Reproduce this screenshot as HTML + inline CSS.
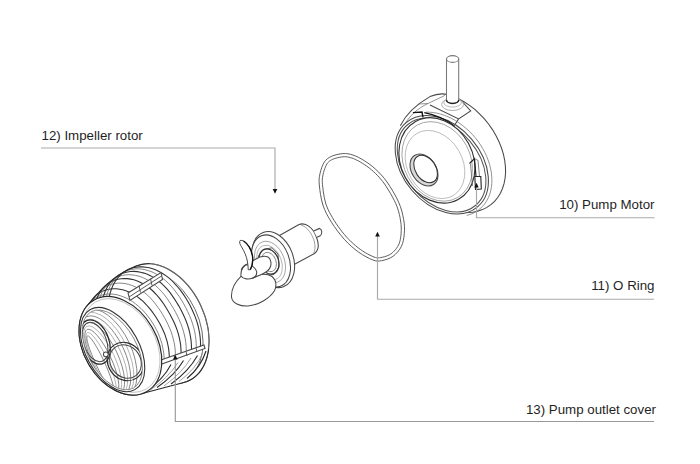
<!DOCTYPE html>
<html><head><meta charset="utf-8">
<style>
html,body{margin:0;padding:0;background:#fff;width:700px;height:464px;overflow:hidden}
svg{display:block}
text{font-family:"Liberation Sans",sans-serif;font-size:13.3px;fill:#1f1f1f}
.ld{stroke:#aaa;stroke-width:1.15;fill:none}
.k{stroke:#484848;stroke-width:1.05;fill:none}
.g{stroke:#777;stroke-width:0.8;fill:none}
.w{fill:#fff}
</style></head><body>
<svg width="700" height="464" viewBox="0 0 700 464">
<!-- labels -->
<text x="41.5" y="140">12) Impeller rotor</text>
<text x="654.5" y="208.5" text-anchor="end">10) Pump Motor</text>
<text x="654.5" y="290" text-anchor="end">11) O Ring</text>
<text x="656" y="413.5" text-anchor="end">13) Pump outlet cover</text>

<!-- MOTOR -->
<g id="motor">
<path class="w" d="M400.3 125.7 C 406 114, 417 104, 430 96.6 C 436 94, 441 93, 447.5 94.5 L447.5,94.5 453.2,96.4 458.9,98.9 464.4,102.0 469.9,105.6 475.1,109.7 480.0,114.3 484.6,119.2 488.9,124.5 492.8,130.1 496.2,135.9 499.1,141.9 501.5,148.0 503.4,154.2 504.7,160.3 505.4,166.4 505.6,172.3 505.1,178.0 504.1,183.4 502.5,188.5 500.4,193.2 497.7,197.5 494.6,201.3 490.9,204.6 486.9,207.4 482.4,209.6 477.6,211.2 472.6,212.2 467.2,212.5 461.7,212.3 L 445 211 L 400 170 Z"/>
<path class="k" d="M400.3 125.7 C 406 114, 417 104, 430 96.6 C 436 94, 441 93, 447.5 94.5 L447.5,94.5 453.2,96.4 458.9,98.9 464.4,102.0 469.9,105.6 475.1,109.7 480.0,114.3 484.6,119.2 488.9,124.5 492.8,130.1 496.2,135.9 499.1,141.9 501.5,148.0 503.4,154.2 504.7,160.3 505.4,166.4 505.6,172.3 505.1,178.0 504.1,183.4 502.5,188.5 500.4,193.2 497.7,197.5 494.6,201.3 490.9,204.6 486.9,207.4 482.4,209.6 477.6,211.2 472.6,212.2 467.2,212.5 461.7,212.3"/>
<path class="k" d="M460.7 100 L470.7 110.9 L458.6 118.9 L430 105 M458.6 118.9 L455 124.5"/>
<path class="g" d="M403.5 126.5 C 409 116, 418 108, 428 103.5 L418.6 104 M428 103.5 L444.9 95.4" style="stroke:#777"/>
<path class="g" d="M425.8 112.1 L429.4 112.2 L433.1 112.5 L436.8 113.1 L440.6 114.1 L444.3 115.3 L448.1 116.8 L451.8 118.6 L455.5 120.6 L459.1 123.0 L462.6 125.5 L466.0 128.3 L469.2 131.2 L472.3 134.4 L475.2 137.7 L478.0 141.2 L480.5 144.9 L482.8 148.6 L484.8 152.4 L486.7 156.3 L488.2 160.3 L489.5 164.2 L490.5 168.2 L491.3 172.2 L491.7 176.1 L491.9 179.9 L491.8 183.6 L491.4 187.3 L490.7 190.8 L489.8 194.1 L488.5 197.3 L487.0 200.3 L485.3 203.0 L483.2 205.6 L481.0 207.9 L478.5 209.9 L475.8 211.7 L473.0 213.3 L469.9 214.5 L466.7 215.4"/>
<ellipse transform="translate(441.8 164.8) rotate(-40.3)" rx="39.3" ry="55.2" class="k w"/>
<ellipse transform="translate(441.6 165.0) rotate(-40.3)" rx="37.0" ry="52.8" class="k" style="stroke:#555"/>
<path class="k" d="M412.9 112.6 L422 112 L423 117.3 M424.3 112.6 C 436 115, 447 120, 454 125.7 L455 129.8" style="stroke:#111;stroke-width:1.4"/>
<ellipse transform="translate(436.9 160.4) rotate(-28.6)" rx="35.9" ry="44.4" class="k w" style="stroke:#333;stroke-width:1.15"/>
<ellipse transform="translate(437.2 161.4) rotate(-28.6)" rx="33.2" ry="41.5" class="g" style="stroke:#9a9a9a"/>
<ellipse transform="translate(435.0 164.5) rotate(-30.0)" rx="27.5" ry="36.0" class="g" style="stroke:#b5b5b5"/>
<path class="k" d="M469.5 163.5 L474.5 158.5 L476 176.5" style="stroke:#222;stroke-width:1.2"/>
<path class="g" d="M474.5 158.5 L478 160.5 L479.5 176.5 M470.5 164 L472.5 186" style="stroke:#666"/>
<path class="k w" d="M474.8 176.5 L480.8 176.5 L481.3 189 L475.5 189.5 Z" style="stroke:#222;stroke-width:1.1"/>
<ellipse transform="translate(424.0 170.0) rotate(-33.4)" rx="12.2" ry="17.4" class="k" style="fill:#d8d8d8;stroke-width:1.1"/>
<ellipse transform="translate(425.6 169.0) rotate(-33.4)" rx="10.2" ry="15.0" class="k w" style="stroke:#333"/>
<ellipse cx="452.6" cy="104.5" rx="11" ry="6" class="g w" style="stroke:#999"/>
<ellipse cx="452.6" cy="102.5" rx="8.8" ry="4.6" class="g" style="stroke:#aaa"/>
<path d="M446.5 59V100 A6.1 3.4 0 0 0 458.7 100V59Z" class="k w" style="stroke:#777"/>
<path d="M446.5 100 A6.1 3.4 0 0 0 458.7 100" class="k" style="stroke:#222;stroke-width:1.5"/>
<ellipse cx="452.6" cy="59" rx="6.1" ry="3.4" class="k w" style="stroke:#777"/>
</g>
<!-- IMPELLER -->
<g id="impeller">
<path class="k w" d="M276.8 237 L299 224.5 C 306 222, 313 228, 316 236 C 319 243, 319 250, 314.5 253.5 L292.3 265.5 Z"/>
<path class="g" d="M301 225 C 308 227, 312.5 235, 314.5 242 C 315.5 247, 315 251, 313.5 253.5" style="stroke:#888"/>
<path class="k w" d="M313.7 231 L319.5 228.4 C 322.2 229, 322.6 234, 320.2 235.8 L317 237.2"/>
<ellipse transform="translate(273.3 259.6) rotate(-20.6)" rx="20" ry="28.9" class="k w"/>
<ellipse transform="translate(271 261) rotate(-20.6)" rx="18.2" ry="27" class="k w" style="stroke:#444"/>
<ellipse transform="translate(270 262) rotate(-20.6)" rx="14.5" ry="21.5" class="g" style="stroke:#999"/>
<ellipse transform="translate(269.5 262.5) rotate(-20.6)" rx="12" ry="18" class="g" style="stroke:#aaa"/>
<path class="k" d="M263 249.5 L272 247.8 L278 254 L279 267 L274 274.5 L264 275.5 L258.5 268 L258.5 256 Z" style="stroke:#666;stroke-width:1"/>
<ellipse transform="translate(269 261.5) rotate(-20.6)" rx="9.5" ry="13" class="k" style="stroke:#333;stroke-width:1.2"/>
<ellipse transform="translate(269 262) rotate(-20.6)" rx="7" ry="10" class="g"/>
<path class="k w" d="M241.9 275.4 C 236 281, 231 289, 231.5 297 C 232 303, 240 306.5, 248 306 C 259 305, 270 298, 274.5 290.8 C 277 285, 276 280, 272 276.5 C 268 274, 262 274, 258 275 L 250 278 Z"/>
<path class="k w" d="M241 276 C 240.5 271, 243 266, 248 263.5 L 255 259.5 C 259 257, 264 255.5, 268 257 C 271 258.5, 271.5 264, 270.5 266.5 C 269.5 270, 266 272.5, 262 274.2 L 253 278 C 249 279.5, 243 279.5, 241 276 Z"/>
<path class="k" d="M241.2 269.9 C 242.5 266.5, 245 264.5, 247.5 264.7 C 251 265, 255 267, 256.7 271.6 C 257 275, 255 277.5, 252 278.5" style="stroke:#444"/>
<path class="k w" d="M240.1 240.6 C 239 241.5, 240 245, 241.7 247.1 C 244 251, 246.5 256, 247.3 261 C 248 265, 248.2 268, 248.2 269.7 L 250.3 269.7 C 252.5 266, 253 260, 252.5 256 C 251.5 250, 248 244, 244.5 241.5 C 243 240.5, 241 240, 240.1 240.6 Z" style="stroke-width:1"/>
<path class="k" d="M243.5 241 C 248 244, 251.5 250, 252.5 256 C 253 260, 252.5 266, 250.3 269.7" style="stroke:#111;stroke-width:1.4"/>
</g>
<!-- COVER -->
<g id="cover">
<ellipse transform="translate(161.9 323.7) rotate(-25.1)" rx="42.9" ry="63.1" class="k w" style="stroke:#666"/>
<ellipse transform="translate(160.1 325.9) rotate(-25.1)" rx="38.7" ry="58.5" class="g" style="stroke:#555"/>
<path class="w" d="M177.1 384.4 L140.3 394.1 L137.7 394.7 L135.0 395.0 L132.3 395.0 L129.5 394.8 L126.6 394.4 L123.7 393.7 L120.8 392.8 L117.8 391.6 L114.9 390.2 L112.1 388.6 L109.2 386.8 L106.4 384.8 L103.7 382.6 L101.1 380.2 L98.6 377.6 L96.1 374.9 L93.8 372.0 L91.7 369.0 L89.6 365.9 L87.8 362.6 L86.1 359.3 L84.5 356.0 L83.1 352.5 L82.0 349.1 L81.0 345.6 L80.2 342.1 L79.6 338.7 L79.2 335.3 L79.0 331.9 L79.1 328.6 L79.3 325.4 L79.7 322.3 L80.4 319.3 L81.2 316.4 L82.3 313.7 L83.5 311.2 L84.9 308.8 L86.5 306.6 L88.5 304.1 L92.3 299.6 L94.3 297.1 L96.5 294.8 L98.7 292.5 L100.7 290.3 L103.0 288.1 L105.3 285.9 L107.7 283.7 L110.0 281.8 L112.4 279.7 L115.0 277.8 L117.5 276.0 L120.2 274.2 L122.8 272.6 L125.5 271.0 L128.2 269.6 L131.0 268.3 L134.0 267.4 L137.1 266.8 L140.2 266.4 L143.5 266.5 L146.8 266.8 L150.2 267.4 L153.6 268.4 L157.0 269.7 L160.4 271.3 L163.8 273.3 L167.1 275.5 L170.3 278.0 L173.4 280.8 L176.3 283.8 L179.1 287.1 L181.8 290.4 L184.3 294.0 L186.7 297.6 L188.9 301.3 L191.0 305.1 L193.0 309.0 L194.8 312.9 L196.4 317.0 L197.7 321.0 L198.9 325.1 L199.9 329.2 L200.6 333.3 L201.1 337.4 L201.4 341.4 L201.5 345.4 L201.3 349.2 L200.9 353.0 L200.3 356.6 L199.4 360.1 L198.3 363.4 L197.0 366.5 L195.5 369.5 L193.8 372.2 L191.9 374.7 L189.9 376.9 L187.6 379.0 L185.2 380.7 L182.7 382.2 L180.0 383.4 Z" style="stroke:none"/>
<clipPath id="rb"><path d="M0 0 L260 0 L260 328.5 L159 364.5 L60 402 L0 402 Z"/></clipPath>
<g clip-path="url(#rb)">
<path class="g" d="M154.6 326.2 L156.3 329.6 L158.0 332.9 L159.4 336.4 L160.7 339.9 L161.8 343.4 L162.6 346.9 L163.3 350.4 L163.8 353.8 L164.1 357.3 L164.1 360.6 L164.0 363.9 L163.6 367.1 L163.1 370.2 L162.3 373.1 L161.3 375.9 L160.2 378.6 L158.9 381.1 L157.3 383.4 L155.6 385.5 L153.8 387.4 L151.8 389.1 L149.6 390.6 L147.3 391.8 L144.9 392.8 L142.4 393.6 L139.7 394.1 L137.0 394.4 L134.2 394.4 L131.4 394.2 L128.5 393.8 L125.6 393.0 L122.6 392.1 L119.7 390.9 L116.8 389.5 L113.9 387.9 L111.0 386.0 L108.2 384.0 L105.5 381.7 L102.8 379.3 L100.3 376.7 L97.9 373.9 L95.6 371.0 L93.4 367.9 L91.4 364.8 L89.5 361.5 L87.8 358.2 L86.2 354.7 L84.9 351.3 L83.7 347.8 L82.7 344.3 L81.9 340.8 L81.4 337.3 L81.0 333.8 L80.8 330.4 L80.8 327.1 L81.0 323.8 L81.5 320.7 L82.1 317.6 L82.9 314.7 L83.9 311.9 L85.1 309.3 L86.5 306.8 L88.1 304.5 L89.9 302.5 L91.8 300.6 L93.9 299.0 L96.1 297.5 L98.5 296.3 L101.0 295.4 L103.6 294.7 L106.3 294.2 L109.1 294.0 L112.0 294.1 L114.9 294.4 L117.8 295.0 L120.8 295.9 L123.8 297.0 L126.8 298.3 L129.8 299.9 L132.7 301.7 L135.5 303.8 L138.3 306.1 L141.0 308.5 L143.6 311.1 L146.0 313.9 L148.3 316.8 L150.6 319.9 L152.6 323.0 L154.6 326.2 Z" style="stroke:#777;stroke-width:0.9"/>
<path class="k" d="M159.9 323.8 L161.7 327.2 L163.3 330.7 L164.8 334.2 L166.0 337.8 L167.1 341.4 L167.9 345.0 L168.6 348.6 L169.0 352.1 L169.3 355.6 L169.3 359.0 L169.1 362.4 L168.7 365.6 L168.1 368.8 L167.3 371.8 L166.3 374.6 L165.1 377.3 L163.7 379.8 L162.2 382.2 L160.4 384.3 L158.5 386.2 L156.4 387.9 L154.2 389.4 L151.9 390.6 L149.4 391.6 L146.8 392.4 L144.1 392.9 L141.3 393.2 L138.5 393.2 L135.6 392.9 L132.7 392.4 L129.7 391.6 L126.7 390.6 L123.7 389.4 L120.8 387.9 L117.8 386.2 L114.9 384.3 L112.1 382.1 L109.4 379.8 L106.7 377.3 L104.1 374.6 L101.7 371.7 L99.4 368.7 L97.2 365.6 L95.1 362.3 L93.3 359.0 L91.6 355.6 L90.0 352.1 L88.7 348.5 L87.5 344.9 L86.6 341.3 L85.8 337.7 L85.2 334.2 L84.8 330.6 L84.6 327.1 L84.6 323.7 L84.8 320.3 L85.2 317.1 L85.8 313.9 L86.6 310.8 L87.7 307.9 L88.9 305.2 L90.3 302.6 L91.9 300.2 L93.6 297.9 L95.6 295.9 L97.7 294.2 L100.0 292.6 L102.5 291.3 L105.1 290.3 L107.8 289.5 L110.6 289.0 L113.5 288.8 L116.5 288.8 L119.6 289.2 L122.7 289.8 L125.8 290.8 L129.0 292.0 L132.1 293.5 L135.2 295.3 L138.2 297.4 L141.1 299.7 L143.9 302.2 L146.6 305.0 L149.1 307.8 L151.6 310.9 L153.8 314.0 L156.0 317.2 L158.0 320.5 L159.9 323.8 Z" style="stroke:#333;stroke-width:1.1"/>
<path class="g" d="M166.3 321.0 L168.0 324.5 L169.6 328.1 L171.1 331.7 L172.3 335.4 L173.3 339.1 L174.2 342.8 L174.8 346.4 L175.2 350.1 L175.4 353.7 L175.4 357.2 L175.2 360.6 L174.8 363.9 L174.1 367.1 L173.3 370.2 L172.2 373.1 L170.9 375.8 L169.5 378.4 L167.9 380.7 L166.0 382.9 L164.1 384.8 L161.9 386.6 L159.6 388.0 L157.2 389.3 L154.7 390.3 L152.0 391.0 L149.3 391.5 L146.5 391.7 L143.5 391.6 L140.6 391.3 L137.6 390.8 L134.6 390.0 L131.5 388.9 L128.5 387.6 L125.5 386.0 L122.5 384.2 L119.6 382.2 L116.7 380.0 L113.9 377.6 L111.2 374.9 L108.7 372.2 L106.2 369.2 L103.8 366.1 L101.7 362.8 L99.6 359.5 L97.7 356.0 L96.0 352.5 L94.5 348.9 L93.2 345.2 L92.0 341.6 L91.1 337.9 L90.3 334.2 L89.8 330.5 L89.4 326.9 L89.2 323.3 L89.2 319.7 L89.4 316.3 L89.8 312.9 L90.4 309.6 L91.2 306.4 L92.2 303.3 L93.4 300.4 L94.8 297.7 L96.5 295.2 L98.3 292.8 L100.3 290.7 L102.5 288.8 L104.9 287.2 L107.4 285.8 L110.1 284.7 L112.9 283.9 L115.9 283.4 L118.9 283.1 L122.0 283.2 L125.2 283.6 L128.5 284.3 L131.8 285.4 L135.0 286.7 L138.3 288.4 L141.5 290.4 L144.6 292.7 L147.6 295.2 L150.4 298.0 L153.1 301.0 L155.6 304.2 L158.0 307.4 L160.3 310.7 L162.4 314.1 L164.4 317.5 L166.3 321.0 Z" style="stroke:#777;stroke-width:0.9"/>
<path class="k" d="M172.1 318.4 L173.9 322.0 L175.5 325.7 L176.9 329.4 L178.1 333.1 L179.1 336.9 L179.9 340.7 L180.6 344.5 L180.9 348.2 L181.1 351.9 L181.1 355.4 L180.8 358.9 L180.3 362.3 L179.6 365.6 L178.7 368.7 L177.6 371.6 L176.3 374.4 L174.8 377.0 L173.1 379.4 L171.2 381.6 L169.2 383.6 L167.0 385.3 L164.7 386.8 L162.2 388.0 L159.6 389.0 L156.9 389.7 L154.1 390.1 L151.2 390.3 L148.2 390.2 L145.2 389.9 L142.1 389.3 L139.1 388.4 L136.0 387.3 L132.9 385.9 L129.9 384.3 L126.8 382.4 L123.9 380.3 L121.0 378.0 L118.2 375.5 L115.4 372.8 L112.8 369.9 L110.3 366.9 L108.0 363.6 L105.8 360.3 L103.7 356.9 L101.9 353.3 L100.2 349.7 L98.6 346.0 L97.3 342.2 L96.2 338.4 L95.3 334.7 L94.5 330.9 L94.0 327.1 L93.6 323.4 L93.4 319.7 L93.5 316.1 L93.7 312.5 L94.1 309.0 L94.7 305.6 L95.5 302.4 L96.5 299.2 L97.8 296.2 L99.3 293.4 L100.9 290.8 L102.8 288.4 L104.9 286.2 L107.2 284.3 L109.6 282.6 L112.2 281.2 L115.0 280.1 L117.9 279.2 L120.9 278.7 L124.1 278.5 L127.3 278.6 L130.6 279.1 L133.9 279.8 L137.3 281.0 L140.6 282.4 L144.0 284.2 L147.2 286.4 L150.4 288.8 L153.4 291.5 L156.3 294.5 L159.0 297.6 L161.5 300.9 L163.9 304.3 L166.1 307.8 L168.2 311.3 L170.2 314.8 L172.1 318.4 Z" style="stroke:#333;stroke-width:1.1"/>
<path class="g" d="M177.5 316.0 L179.2 319.7 L180.8 323.4 L182.2 327.2 L183.4 331.1 L184.4 335.0 L185.2 338.8 L185.8 342.7 L186.2 346.5 L186.3 350.2 L186.2 353.9 L185.9 357.4 L185.4 360.9 L184.7 364.2 L183.7 367.3 L182.6 370.3 L181.2 373.2 L179.7 375.8 L177.9 378.2 L176.0 380.4 L173.9 382.4 L171.7 384.1 L169.3 385.6 L166.7 386.8 L164.1 387.8 L161.3 388.5 L158.4 388.9 L155.5 389.1 L152.5 389.0 L149.4 388.6 L146.3 387.9 L143.2 387.0 L140.1 385.8 L137.0 384.4 L133.9 382.7 L130.8 380.7 L127.8 378.6 L124.9 376.2 L122.0 373.6 L119.3 370.8 L116.7 367.8 L114.2 364.7 L111.8 361.4 L109.6 358.0 L107.5 354.4 L105.6 350.8 L103.9 347.1 L102.4 343.3 L101.1 339.5 L100.0 335.6 L99.1 331.7 L98.4 327.9 L97.8 324.0 L97.5 320.2 L97.3 316.5 L97.4 312.7 L97.6 309.1 L98.1 305.5 L98.7 302.1 L99.6 298.7 L100.6 295.5 L101.9 292.5 L103.5 289.7 L105.2 287.0 L107.1 284.6 L109.3 282.4 L111.6 280.4 L114.1 278.7 L116.8 277.3 L119.6 276.2 L122.6 275.4 L125.7 274.9 L128.9 274.7 L132.2 274.9 L135.5 275.4 L138.9 276.2 L142.4 277.4 L145.8 279.0 L149.1 280.9 L152.4 283.1 L155.6 285.6 L158.6 288.4 L161.5 291.5 L164.3 294.7 L166.8 298.1 L169.2 301.6 L171.4 305.1 L173.6 308.7 L175.6 312.3 L177.5 316.0 Z" style="stroke:#777;stroke-width:0.9"/>
<path class="k" d="M182.8 313.6 L184.6 317.4 L186.2 321.2 L187.6 325.1 L188.8 329.0 L189.8 333.0 L190.5 336.9 L191.1 340.9 L191.4 344.7 L191.5 348.5 L191.4 352.3 L191.1 355.9 L190.5 359.4 L189.7 362.8 L188.8 366.0 L187.5 369.0 L186.1 371.9 L184.5 374.5 L182.7 377.0 L180.8 379.2 L178.6 381.2 L176.3 382.9 L173.9 384.4 L171.3 385.7 L168.6 386.6 L165.7 387.3 L162.8 387.7 L159.8 387.8 L156.8 387.7 L153.7 387.3 L150.5 386.6 L147.3 385.6 L144.2 384.3 L141.0 382.8 L137.9 381.1 L134.8 379.1 L131.7 376.8 L128.8 374.4 L125.9 371.7 L123.1 368.8 L120.5 365.8 L118.0 362.6 L115.6 359.2 L113.4 355.7 L111.3 352.0 L109.4 348.3 L107.7 344.5 L106.2 340.6 L104.9 336.7 L103.8 332.7 L102.9 328.8 L102.2 324.8 L101.7 320.9 L101.4 317.1 L101.3 313.2 L101.4 309.4 L101.6 305.7 L102.1 302.1 L102.8 298.6 L103.8 295.2 L104.9 292.0 L106.3 289.0 L107.8 286.1 L109.6 283.4 L111.6 281.0 L113.8 278.8 L116.2 276.9 L118.8 275.2 L121.5 273.8 L124.4 272.8 L127.4 272.0 L130.6 271.5 L133.8 271.4 L137.2 271.6 L140.5 272.2 L144.0 273.1 L147.4 274.3 L150.8 275.9 L154.2 277.9 L157.5 280.1 L160.7 282.7 L163.8 285.6 L166.7 288.7 L169.5 291.9 L172.0 295.4 L174.4 298.9 L176.7 302.5 L178.9 306.1 L180.9 309.8 L182.8 313.6 Z" style="stroke:#333;stroke-width:1.1"/>
<path class="g" d="M187.6 311.4 L189.4 315.3 L191.0 319.2 L192.4 323.2 L193.6 327.2 L194.6 331.2 L195.3 335.2 L195.9 339.2 L196.2 343.2 L196.3 347.0 L196.1 350.8 L195.8 354.5 L195.2 358.1 L194.3 361.5 L193.3 364.7 L192.1 367.8 L190.6 370.7 L189.0 373.4 L187.1 375.9 L185.1 378.1 L182.9 380.1 L180.6 381.9 L178.1 383.4 L175.4 384.6 L172.7 385.5 L169.8 386.2 L166.8 386.6 L163.8 386.7 L160.7 386.5 L157.5 386.1 L154.3 385.3 L151.1 384.3 L147.9 383.0 L144.7 381.4 L141.5 379.6 L138.4 377.6 L135.3 375.3 L132.3 372.7 L129.4 370.0 L126.6 367.0 L124.0 363.9 L121.4 360.6 L119.0 357.1 L116.8 353.5 L114.7 349.8 L112.9 346.0 L111.2 342.1 L109.7 338.2 L108.4 334.2 L107.3 330.1 L106.4 326.1 L105.7 322.1 L105.2 318.1 L105.0 314.2 L104.9 310.3 L105.0 306.5 L105.4 302.7 L105.9 299.1 L106.7 295.5 L107.7 292.1 L108.9 288.9 L110.3 285.9 L112.0 283.0 L113.8 280.4 L115.9 278.0 L118.2 275.8 L120.6 274.0 L123.2 272.3 L126.0 271.0 L128.9 270.0 L132.0 269.3 L135.1 268.9 L138.4 268.8 L141.7 269.1 L145.1 269.7 L148.6 270.7 L152.0 271.9 L155.4 273.6 L158.8 275.5 L162.1 277.8 L165.3 280.4 L168.4 283.2 L171.3 286.3 L174.1 289.6 L176.7 293.0 L179.2 296.5 L181.5 300.1 L183.7 303.8 L185.7 307.6 L187.6 311.4 Z" style="stroke:#777;stroke-width:0.9"/>
<path class="k" d="M192.0 309.4 L193.8 313.4 L195.4 317.4 L196.8 321.4 L198.0 325.5 L198.9 329.6 L199.7 333.7 L200.2 337.7 L200.5 341.7 L200.5 345.7 L200.4 349.5 L200.0 353.3 L199.3 356.9 L198.5 360.3 L197.4 363.6 L196.1 366.8 L194.6 369.7 L193.0 372.4 L191.1 374.9 L189.0 377.2 L186.8 379.2 L184.4 380.9 L181.8 382.4 L179.1 383.6 L176.3 384.6 L173.4 385.2 L170.4 385.6 L167.3 385.7 L164.2 385.5 L161.0 385.0 L157.7 384.2 L154.5 383.1 L151.2 381.8 L148.0 380.2 L144.8 378.3 L141.6 376.2 L138.5 373.8 L135.5 371.2 L132.6 368.4 L129.8 365.4 L127.1 362.2 L124.5 358.8 L122.1 355.3 L119.9 351.6 L117.8 347.9 L115.9 344.0 L114.2 340.0 L112.8 336.0 L111.5 331.9 L110.4 327.8 L109.5 323.7 L108.9 319.6 L108.4 315.6 L108.2 311.6 L108.2 307.7 L108.4 303.8 L108.8 300.0 L109.4 296.4 L110.2 292.8 L111.3 289.5 L112.6 286.3 L114.1 283.2 L115.8 280.4 L117.7 277.8 L119.9 275.5 L122.2 273.4 L124.7 271.6 L127.3 270.0 L130.1 268.8 L133.1 267.8 L136.1 267.2 L139.3 266.9 L142.6 266.9 L145.9 267.2 L149.3 267.8 L152.7 268.8 L156.1 270.1 L159.5 271.7 L162.9 273.7 L166.2 275.9 L169.4 278.4 L172.5 281.2 L175.4 284.3 L178.2 287.5 L180.9 290.9 L183.4 294.4 L185.8 298.0 L188.0 301.8 L190.1 305.6 L192.0 309.4 Z" style="stroke:#333;stroke-width:1.1"/>
</g>
<path class="k w" d="M128 293 L161 272.5 L162.5 279.5 L130 300.5 Z"/>
<path class="k" d="M139 285.5 L140.5 292.5 M150.5 278.5 L152 285.5 M129 297 L161.5 276" style="stroke-width:0.9"/>
<path class="k w" d="M158 361 L204 345 L205 348.5 L159 365 Z"/>
<path class="k" d="M174 355.5 L175 360 M186 351.5 L187 356 M196 348 L197 352" style="stroke-width:0.9"/>
<path class="k" d="M146 391 Q 163 380 171 364.5" style="stroke:#2a2a2a;stroke-width:1.1"/>
<path class="g" d="M151 389.5 Q 168 378 178 362.5" style="stroke:#888"/>
<path class="k" d="M157 387.5 Q 175 375 183.5 360.5" style="stroke:#2a2a2a;stroke-width:1.1"/>
<path class="g" d="M164 386 Q 182 373 191 358" style="stroke:#888"/>
<path class="k" d="M171 384 Q 189 371 197.5 355.5" style="stroke:#2a2a2a;stroke-width:1.1"/>
<path class="g" d="M179 381.5 Q 196 369 202.5 353.5" style="stroke:#888"/>
<path class="k" d="M187 378.5 Q 201 367 206 351" style="stroke:#2a2a2a;stroke-width:1.1"/>
<clipPath id="hd"><path d="M0 0 L150 0 L150 330 L220 352 L220 464 L0 464 Z"/></clipPath>
<clipPath id="hl"><path d="M150 0 L700 0 L700 352 L220 352 L150 330 Z"/></clipPath>
<g clip-path="url(#hd)"><path class="k" d="M183.7 382.6 L140.3 394.1 L137.7 394.7 L135.0 395.0 L132.3 395.0 L129.5 394.8 L126.6 394.4 L123.7 393.7 L120.8 392.8 L117.8 391.6 L114.9 390.2 L112.1 388.6 L109.2 386.8 L106.4 384.8 L103.7 382.6 L101.1 380.2 L98.6 377.6 L96.1 374.9 L93.8 372.0 L91.7 369.0 L89.6 365.9 L87.8 362.6 L86.1 359.3 L84.5 356.0 L83.1 352.5 L82.0 349.1 L81.0 345.6 L80.2 342.1 L79.6 338.7 L79.2 335.3 L79.0 331.9 L79.1 328.6 L79.3 325.4 L79.7 322.3 L80.4 319.3 L81.2 316.4 L82.3 313.7 L83.5 311.2 L84.9 308.8 L86.5 306.6 L88.1 304.5 L91.6 300.4 L93.3 298.4 L95.0 296.3 L96.8 294.4 L98.7 292.5 L100.7 290.3 L102.6 288.4 L104.5 286.6 L106.5 284.8 L108.5 283.0 L110.8 281.1 L112.8 279.4 L115.0 277.8 L117.1 276.3 L119.3 274.8 L121.5 273.4 L124.1 271.8 L126.4 270.5 L128.7 269.3 L131.0 268.2 L133.4 267.2 L136.2 266.1 L138.7 265.2 L141.6 264.4 L144.7 263.9 L147.8 263.7 L151.0 263.8 L154.3 264.3 L157.6 265.0 L160.9 266.0 L164.2 267.3 L167.6 268.8 L170.9 270.7 L174.1 272.8 L177.3 275.1 L180.4 277.7 L183.4 280.6 L186.3 283.6 L189.1 286.9 L191.8 290.3 L194.3 293.9 L196.6 297.6 L198.8 301.5 L200.7 305.5 L202.5 309.6 L204.1 313.7 L205.5 317.9 L206.7 322.1 L207.6 326.4 L208.3 330.6 L208.8 334.8 L209.0 338.9 L209.1 343.0 L208.8 346.9 L208.4 350.8 L207.7 354.5 L206.8 358.0 L205.6 361.4 L204.3 364.6 L202.7 367.6 L200.9 370.4 L199.0 372.9 L196.8 375.2 L194.5 377.2 L192.0 379.0 L189.3 380.5 L186.6 381.7 Z" style="stroke:#2a2a2a"/></g>
<g clip-path="url(#hl)"><path class="k" d="M183.7 382.6 L140.3 394.1 L137.7 394.7 L135.0 395.0 L132.3 395.0 L129.5 394.8 L126.6 394.4 L123.7 393.7 L120.8 392.8 L117.8 391.6 L114.9 390.2 L112.1 388.6 L109.2 386.8 L106.4 384.8 L103.7 382.6 L101.1 380.2 L98.6 377.6 L96.1 374.9 L93.8 372.0 L91.7 369.0 L89.6 365.9 L87.8 362.6 L86.1 359.3 L84.5 356.0 L83.1 352.5 L82.0 349.1 L81.0 345.6 L80.2 342.1 L79.6 338.7 L79.2 335.3 L79.0 331.9 L79.1 328.6 L79.3 325.4 L79.7 322.3 L80.4 319.3 L81.2 316.4 L82.3 313.7 L83.5 311.2 L84.9 308.8 L86.5 306.6 L88.1 304.5 L91.6 300.4 L93.3 298.4 L95.0 296.3 L96.8 294.4 L98.7 292.5 L100.7 290.3 L102.6 288.4 L104.5 286.6 L106.5 284.8 L108.5 283.0 L110.8 281.1 L112.8 279.4 L115.0 277.8 L117.1 276.3 L119.3 274.8 L121.5 273.4 L124.1 271.8 L126.4 270.5 L128.7 269.3 L131.0 268.2 L133.4 267.2 L136.2 266.1 L138.7 265.2 L141.6 264.4 L144.7 263.9 L147.8 263.7 L151.0 263.8 L154.3 264.3 L157.6 265.0 L160.9 266.0 L164.2 267.3 L167.6 268.8 L170.9 270.7 L174.1 272.8 L177.3 275.1 L180.4 277.7 L183.4 280.6 L186.3 283.6 L189.1 286.9 L191.8 290.3 L194.3 293.9 L196.6 297.6 L198.8 301.5 L200.7 305.5 L202.5 309.6 L204.1 313.7 L205.5 317.9 L206.7 322.1 L207.6 326.4 L208.3 330.6 L208.8 334.8 L209.0 338.9 L209.1 343.0 L208.8 346.9 L208.4 350.8 L207.7 354.5 L206.8 358.0 L205.6 361.4 L204.3 364.6 L202.7 367.6 L200.9 370.4 L199.0 372.9 L196.8 375.2 L194.5 377.2 L192.0 379.0 L189.3 380.5 L186.6 381.7 Z" style="stroke:#666"/></g>
<ellipse transform="translate(120.4 345.8) rotate(-30.2)" rx="36.7" ry="52.8" class="k w" style="stroke:#2a2a2a;stroke-width:1.15"/>
<ellipse transform="translate(120.9 345.5) rotate(-30.2)" rx="34.5" ry="50.4" class="g" style="stroke:#bbb"/>
<ellipse transform="translate(112.6 349.6) rotate(-29.1)" rx="26.6" ry="45.8" class="k w" style="stroke:#333;stroke-width:1.1"/>
<ellipse transform="translate(112.3 349.9) rotate(-29.1)" rx="24.4" ry="43.6" class="g"/>
<clipPath id="op"><ellipse transform="translate(112.3 349.90000000000003) rotate(-29.1)" rx="24.400000000000002" ry="43.599999999999994"/></clipPath>
<g clip-path="url(#op)">
<ellipse transform="translate(106.6 353.6) rotate(-25.1)" rx="25.1" ry="47.8" class="g" style="stroke:#777"/>
<ellipse transform="translate(105.8 354.8) rotate(-25.1)" rx="22.5" ry="45.6" class="g" style="stroke:#aaa"/>
<ellipse transform="translate(105.0 356.0) rotate(-25.1)" rx="19.9" ry="43.4" class="g" style="stroke:#777"/>
<ellipse transform="translate(104.2 357.2) rotate(-25.1)" rx="17.3" ry="41.2" class="g" style="stroke:#aaa"/>
<ellipse transform="translate(103.4 358.4) rotate(-25.1)" rx="14.7" ry="39.0" class="g" style="stroke:#777"/>
<ellipse transform="translate(102.6 359.6) rotate(-25.1)" rx="12.1" ry="36.8" class="g" style="stroke:#aaa"/>
<ellipse transform="translate(101.8 360.8) rotate(-25.1)" rx="9.5" ry="34.6" class="g" style="stroke:#777"/>
<ellipse transform="translate(101.0 362.0) rotate(-25.1)" rx="6.9" ry="32.4" class="g" style="stroke:#aaa"/>
<ellipse transform="translate(100.2 363.2) rotate(-25.1)" rx="4.3" ry="30.2" class="g" style="stroke:#777"/>
<ellipse transform="translate(95.0 342.0) rotate(-20.0)" rx="14.0" ry="23.0" class="k" style="stroke:#2a2a2a;stroke-width:1.2"/>
<ellipse transform="translate(95.0 342.0) rotate(-20.0)" rx="11.5" ry="20.5" class="k" style="stroke:#444"/>
<ellipse transform="translate(125.5 361.5) rotate(-35.0)" rx="17.5" ry="20.0" class="k" style="stroke:#2a2a2a;stroke-width:1.2"/>
<ellipse transform="translate(125.5 361.5) rotate(-35.0)" rx="15.0" ry="17.5" class="k" style="stroke:#444"/>
</g>
<circle cx="105.8" cy="354.3" r="2.4" class="k w"/>
</g>
<!-- O ring -->
<path class="k" d="M342.9 153.6 C346.5 153.4 349.3 153.8 352.9 155.0 C356.5 156.2 360.5 158.3 364.3 160.7 C368.1 163.1 371.9 165.7 375.7 169.3 C379.5 172.9 383.3 176.6 387.1 182.1 C390.9 187.6 395.9 195.9 398.6 202.1 C401.4 208.3 402.7 214.1 403.6 219.3 C404.6 224.6 404.7 229.1 404.3 233.6 C403.9 238.1 403.3 242.6 401.4 246.4 C399.5 250.2 396.2 254.0 392.9 256.4 C389.6 258.8 384.7 260.1 381.4 260.7 C378.1 261.3 376.7 261.4 372.9 260.0 C369.1 258.6 363.4 255.5 358.6 252.1 C353.8 248.7 348.8 244.3 344.3 239.3 C339.8 234.3 335.0 227.8 331.4 222.1 C327.8 216.4 324.9 211.2 322.9 205.0 C320.9 198.8 319.8 190.2 319.3 185.0 C318.8 179.8 319.2 177.4 320.0 173.6 C320.8 169.8 322.4 165.0 324.3 162.1 C326.2 159.2 328.3 157.8 331.4 156.4 C334.5 155.0 339.3 153.8 342.9 153.6Z" style="stroke:#555;stroke-width:0.95"/>
<path class="k" d="M343.1 156.8 L344.6 156.7 L346.1 156.8 L347.5 156.9 L348.8 157.2 L350.3 157.6 L351.9 158.0 L353.5 158.6 L355.3 159.4 L357.1 160.3 L358.9 161.2 L360.8 162.3 L362.6 163.4 L364.4 164.6 L366.3 165.8 L368.1 167.1 L369.9 168.5 L371.7 170.0 L373.5 171.6 L375.4 173.4 L377.2 175.2 L379.0 177.1 L380.8 179.2 L382.7 181.5 L384.5 183.9 L386.4 186.8 L388.4 190.0 L390.5 193.4 L392.4 196.9 L394.2 200.3 L395.7 203.4 L396.9 206.3 L397.9 209.1 L398.7 211.9 L399.4 214.6 L400.0 217.3 L400.4 219.9 L400.8 222.3 L401.1 224.6 L401.2 226.9 L401.3 229.1 L401.2 231.2 L401.1 233.4 L400.9 235.5 L400.6 237.6 L400.3 239.6 L399.8 241.5 L399.3 243.3 L398.5 245.0 L397.6 246.6 L396.5 248.3 L395.3 249.9 L393.9 251.3 L392.5 252.7 L391.1 253.8 L389.6 254.7 L387.9 255.5 L386.1 256.2 L384.3 256.8 L382.5 257.2 L380.8 257.6 L379.4 257.8 L378.4 257.9 L377.5 257.9 L376.7 257.8 L375.5 257.5 L374.0 257.0 L372.1 256.2 L370.0 255.2 L367.6 254.0 L365.2 252.6 L362.8 251.1 L360.5 249.5 L358.2 247.8 L355.8 245.9 L353.5 243.9 L351.2 241.8 L348.9 239.5 L346.7 237.2 L344.5 234.6 L342.2 231.9 L340.1 229.1 L337.9 226.1 L335.9 223.2 L334.1 220.4 L332.4 217.6 L330.9 214.9 L329.4 212.3 L328.1 209.6 L327.0 206.9 L325.9 204.0 L325.1 200.9 L324.3 197.6 L323.7 194.1 L323.2 190.7 L322.8 187.5 L322.5 184.7 L322.3 182.4 L322.3 180.6 L322.3 179.0 L322.5 177.5 L322.8 176.0 L323.1 174.3 L323.6 172.4 L324.1 170.5 L324.8 168.6 L325.5 166.8 L326.2 165.2 L327.0 163.8 L327.7 162.8 L328.5 162.0 L329.4 161.2 L330.3 160.6 L331.4 159.9 L332.7 159.3 L334.2 158.7 L335.9 158.2 L337.7 157.7 L339.6 157.3 L341.4 157.0Z" style="stroke:#555;stroke-width:0.95"/>
<!-- leader lines -->
<path class="ld" d="M41 148H275V190"/>
<path d="M272.7 189L277.3 189L275 193.8Z" fill="#111"/>
<path class="ld" d="M654.5 217.7H476.5V187"/>
<path d="M474.3 187.5L478.7 187.5L476.5 182.8Z" fill="#111"/>
<path class="ld" d="M654 299.2H377.5V236"/>
<path d="M375.2 236.5L379.8 236.5L377.5 231.8Z" fill="#111"/>
<path class="ld" style="stroke:#999" d="M654 421.5H175.3V359"/>
<path d="M173 359.5L177.6 359.5L175.3 354.8Z" fill="#111"/>
</svg>
</body></html>
